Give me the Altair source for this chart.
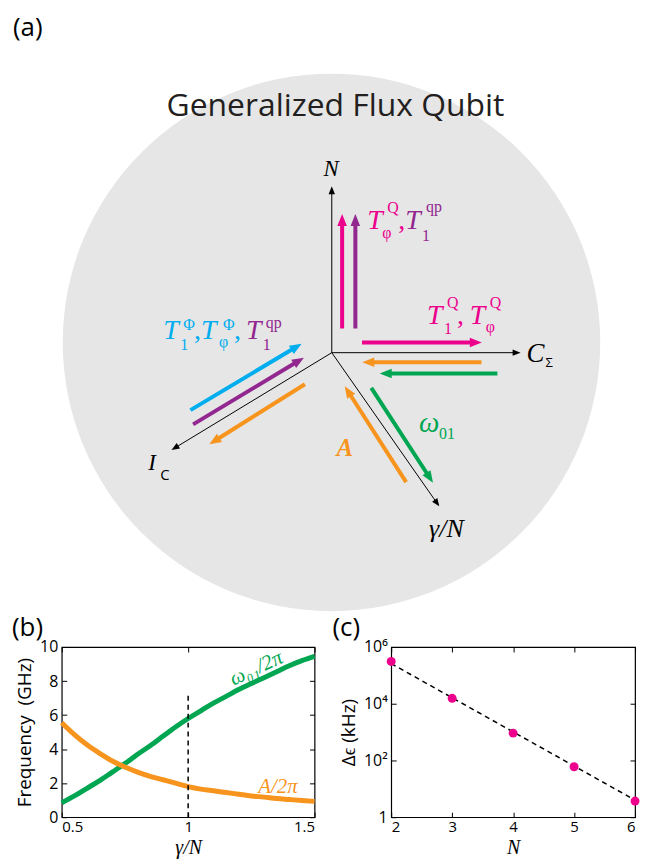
import math
import altair as alt
import pandas as pd

# ---------------- colours / fonts ----------------
PINK, PURPLE, CYAN, ORANGE, GREEN = '#EC008C', '#92278F', '#00AEEF', '#F7941D', '#00A651'
SANS = 'Open Sans'
SERIF = 'Liberation Serif'

# ---------------- panel (b) values ----------------
gamma_over_n = [0.50, 0.55, 0.60, 0.65, 0.70, 0.75, 0.80, 0.85, 0.90, 0.95, 1.00,
                1.05, 1.10, 1.15, 1.20, 1.25, 1.30, 1.35, 1.40, 1.45, 1.50]
omega01_ghz = [0.85, 1.25, 1.70, 2.15, 2.65, 3.15, 3.70, 4.20, 4.75, 5.30, 5.80,
               6.25, 6.70, 7.10, 7.50, 7.85, 8.20, 8.55, 8.90, 9.20, 9.45]
anharm_ghz = [5.55, 4.85, 4.25, 3.75, 3.30, 2.95, 2.65, 2.40, 2.20, 2.00, 1.80,
              1.65, 1.55, 1.45, 1.35, 1.25, 1.18, 1.10, 1.04, 0.98, 0.93]
marker_gamma = [1.0]
marker_top = [7.3]
b_xticks = [0.5, 1.0, 1.5]
b_yticks = [0, 2, 4, 6, 8, 10]

# ---------------- panel (c) values ----------------
n_junctions = [2, 3, 4, 5, 6]
delta_eps_khz = [3.1e5, 1.55e4, 920, 60, 3.7]
fit_n = [2, 6]
fit_khz = [2.6e5, 4.0]
c_xticks = [2, 3, 4, 5, 6]
c_yticks = [1, 1e2, 1e4, 1e6]

# ---------------- panel (a) diagram (page pixel coordinates) ----------------
circle_center = [330, 342]
circle_diameter = 540
axis_origin = [330.3, 352.3]
axis_tip_x = [330.3, 520.0, 169.3, 438.3]
axis_tip_y = [185.0, 352.3, 450.0, 506.7]

arrow_color = [PINK, PURPLE, PINK, ORANGE, GREEN, CYAN, PURPLE, ORANGE, ORANGE, GREEN]
arrow_x0 = [340.7, 354.0, 360.7, 480.7, 496.7, 188.3, 191.0, 303.3, 405.0, 370.0]
arrow_y0 = [328.0, 328.0, 342.0, 362.0, 373.3, 410.0, 424.3, 384.0, 482.3, 387.7]
arrow_x1 = [340.7, 354.0, 481.0, 361.0, 378.5, 300.0, 302.3, 207.3, 343.3, 432.0]
arrow_y1 = [213.0, 213.0, 342.0, 362.0, 373.3, 343.3, 357.3, 444.3, 386.0, 483.0]

# label pieces: text, x, y(baseline), size, colour, group
labels = [
    # italic serif
    ('T', 161, 339, 28, CYAN, 'ti'), ('T', 199, 339, 28, CYAN, 'ti'), ('T', 244, 339, 28, PURPLE, 'ti'),
    ('T', 366, 228, 28, PINK, 'ti'), ('T', 404, 228, 28, PURPLE, 'ti'),
    ('T', 426, 323, 28, PINK, 'ti'), ('T', 469, 323, 28, PINK, 'ti'),
    ('N', 322, 175, 23, 'black', 'ti'), ('C', 526, 362, 27, 'black', 'ti'),
    ('I', 146, 470, 23, 'black', 'ti'), ('γ/N', 428, 537, 26, 'black', 'ti'),
    ('ω', 418, 432, 29, GREEN, 'ti'),
    # upright serif (scripts, commas)
    ('Φ', 181, 330, 16, CYAN, 'tr'), ('1', 178, 350, 16, CYAN, 'tr'), (',', 192, 339, 28, CYAN, 'tr'),
    ('Φ', 221, 330, 16, CYAN, 'tr'), ('φ', 217, 347, 16, CYAN, 'tr'), (',', 232, 339, 28, CYAN, 'tr'),
    ('qp', 264, 327, 16, PURPLE, 'tr'), ('1', 261, 350, 16, PURPLE, 'tr'),
    ('Q', 386, 212, 16, PINK, 'tr'), ('φ', 381, 237, 16, PINK, 'tr'), (',', 397, 228, 28, PINK, 'tr'),
    ('qp', 425, 211, 16, PURPLE, 'tr'), ('1', 421, 240, 16, PURPLE, 'tr'),
    ('Q', 446, 307, 16, PINK, 'tr'), ('1', 443, 334, 16, PINK, 'tr'), (',', 456, 323, 28, PINK, 'tr'),
    ('Q', 489, 307, 16, PINK, 'tr'), ('φ', 485, 332, 16, PINK, 'tr'),
    ('01', 438, 439, 16, GREEN, 'tr'),
    # bold italic serif
    ('A', 335, 456, 25, ORANGE, 'bi'),
    # sans
    ('Σ', 545, 367, 13, 'black', 'sans'), ('C', 158, 480, 15, 'black', 'sans'),
    ('(a)', 10, 34, 26, 'black', 'sans'), ('(b)', 9, 637, 26, 'black', 'sans'),
    ('(c)', 331, 637, 26, 'black', 'sans'),
]
title_text = 'Generalized Flux Qubit'
title_pos = [334, 114]

# ---------------- panel (a) build ----------------
W_A, H_A = 637, 640
AX = alt.Scale(domain=[8, 8 + W_A], nice=False, zero=False)
AY = alt.Scale(domain=[8, 8 + H_A], nice=False, zero=False, reverse=True)
HEAD = 'M0,-1L-0.8,1L0.8,1Z'


def build_arrows(x0s, y0s, x1s, y1s, cols, head_len, back):
    ln, hd = [], []
    for a, b, c, d, col in zip(x0s, y0s, x1s, y1s, cols):
        L = math.hypot(c - a, d - b)
        ux, uy = (c - a) / L, (d - b) / L
        ln.append(dict(x0=a, y0=b, x1=c - ux * head_len * back, y1=d - uy * head_len * back, c=col))
        hd.append(dict(x=c - ux * head_len / 2, y=d - uy * head_len / 2,
                       ang=math.degrees(math.atan2(ux, -uy)) % 360, c=col))
    return pd.DataFrame(ln), pd.DataFrame(hd)


ax_lines, ax_heads = build_arrows([axis_origin[0]] * 4, [axis_origin[1]] * 4, axis_tip_x, axis_tip_y,
                                  ['black'] * 4, 8, 0.5)
col_lines, col_heads = build_arrows(arrow_x0, arrow_y0, arrow_x1, arrow_y1, arrow_color, 12, 0.7)


def rule_layer(df, width):
    return alt.Chart(df).mark_rule(strokeWidth=width, strokeCap='butt').encode(
        x=alt.X('x0:Q', scale=AX, axis=None), y=alt.Y('y0:Q', scale=AY, axis=None),
        x2='x1:Q', y2='y1:Q', color=alt.Color('c:N', scale=None))


def head_layer(df, size):
    return alt.Chart(df).mark_point(filled=True, shape=HEAD, size=size, opacity=1, strokeWidth=0).encode(
        x=alt.X('x:Q', scale=AX, axis=None), y=alt.Y('y:Q', scale=AY, axis=None),
        angle=alt.Angle('ang:Q', scale=None), color=alt.Color('c:N', scale=None))


lab_df = pd.DataFrame(labels, columns=['t', 'x', 'y', 's', 'c', 'g'])


def text_layer(grp, **kw):
    return alt.Chart(lab_df[lab_df.g == grp]).mark_text(align='left', baseline='alphabetic', **kw).encode(
        x=alt.X('x:Q', scale=AX, axis=None), y=alt.Y('y:Q', scale=AY, axis=None), text='t:N',
        size=alt.Size('s:Q', scale=None), color=alt.Color('c:N', scale=None))


circle = alt.Chart(pd.DataFrame({'x': [circle_center[0]], 'y': [circle_center[1]]})).mark_point(
    filled=True, shape='circle', color='#E6E6E6', opacity=1, size=circle_diameter ** 2, strokeWidth=0
).encode(x=alt.X('x:Q', scale=AX, axis=None), y=alt.Y('y:Q', scale=AY, axis=None))

title_mark = alt.Chart(pd.DataFrame({'x': [title_pos[0]], 'y': [title_pos[1]], 't': [title_text]})).mark_text(
    align='center', baseline='alphabetic', font=SANS, fontSize=32, color='#231F20'
).encode(x=alt.X('x:Q', scale=AX, axis=None), y=alt.Y('y:Q', scale=AY, axis=None), text='t:N')

panel_a = alt.layer(
    circle, title_mark,
    rule_layer(ax_lines, 1), head_layer(ax_heads, 64),
    rule_layer(col_lines, 4), head_layer(col_heads, 144),
    text_layer('ti', font=SERIF, fontStyle='italic'),
    text_layer('tr', font=SERIF),
    text_layer('bi', font=SERIF, fontStyle='italic', fontWeight='bold'),
    text_layer('sans', font=SANS),
).properties(width=W_A, height=H_A, view=alt.ViewBackground(strokeOpacity=0))

# ---------------- common axis helpers ----------------
LAB = dict(domain=False, grid=False, ticks=False, tickSize=0, labelFont=SANS,
           labelColor='black', titleColor='black', titleFontWeight='normal')


def tick_axis(orient, offset, values):
    return alt.Axis(orient=orient, offset=offset, values=values, labels=False, ticks=True, tickSize=5,
                    tickColor='black', tickWidth=1, domain=False, grid=False, title=None)


# ---------------- panel (b) ----------------
WB, HB = 254, 171
XB = alt.Scale(domain=[0.5, 1.5], nice=False, zero=False)
YB = alt.Scale(domain=[0, 10], nice=False, zero=False)
dfb = pd.DataFrame({'g': gamma_over_n, 'w': omega01_ghz, 'a': anharm_ghz})

b_green = alt.Chart(dfb).mark_line(color=GREEN, strokeWidth=5, interpolate='monotone').encode(
    x=alt.X('g:Q', scale=XB, axis=alt.Axis(values=b_xticks, format='~g', labelPadding=2, labelFontSize=15,
                                           title='γ/N', titleFont=SERIF, titleFontStyle='italic',
                                           titleFontSize=20, titlePadding=3, **LAB)),
    y=alt.Y('w:Q', scale=YB, axis=alt.Axis(values=b_yticks, labelPadding=4, labelFontSize=16,
                                           title='Frequency\u00a0 (GHz)', titleFont=SANS, titleFontSize=19,
                                           titlePadding=5, **LAB)))
b_orange = alt.Chart(dfb).mark_line(color=ORANGE, strokeWidth=5, interpolate='monotone').encode(
    x=alt.X('g:Q', scale=XB, axis=tick_axis('top', -HB, b_xticks)),
    y=alt.Y('a:Q', scale=YB, axis=tick_axis('right', -WB, b_yticks)))
b_dash = alt.Chart(pd.DataFrame({'g': marker_gamma, 'lo': [0.0], 'hi': marker_top})).mark_rule(
    color='black', strokeWidth=1.5, strokeDash=[5, 4]).encode(
    x=alt.X('g:Q', scale=XB, axis=tick_axis('bottom', -HB, b_xticks)),
    y=alt.Y('lo:Q', scale=YB, axis=tick_axis('left', -WB, b_yticks)), y2='hi:Q')
b_text = alt.Chart(pd.DataFrame({'g': [1.27, 1.355], 'f': [8.74, 1.8], 't': ['ω₀₁/2π', 'A/2π'],
                                 'c': [GREEN, ORANGE], 'r': [335, 0]})).mark_text(
    font=SERIF, fontStyle='italic', fontSize=21, align='center', baseline='middle').encode(
    x=alt.X('g:Q', scale=XB, axis=None), y=alt.Y('f:Q', scale=YB, axis=None), text='t:N',
    color=alt.Color('c:N', scale=None), angle=alt.Angle('r:Q', scale=None))

panel_b = alt.layer(b_green, b_orange, b_dash, b_text).resolve_axis(x='independent', y='independent').properties(
    width=WB, height=HB, view=alt.ViewBackground(stroke='black', strokeWidth=1.2))

# ---------------- panel (c) ----------------
WC, HC = 245, 171
XC = alt.Scale(domain=[2, 6], nice=False, zero=False)
YC = alt.Scale(type='log', domain=[1, 1e6], nice=False)
dfc = pd.DataFrame({'n': n_junctions, 'e': delta_eps_khz})
dff = pd.DataFrame({'n': fit_n, 'e': fit_khz})
sup_expr = "datum.value == 1 ? '1' : datum.value == 100 ? '10²' : datum.value == 10000 ? '10⁴' : '10⁶'"

c_line = alt.Chart(dff).mark_line(color='black', strokeWidth=1.5, strokeDash=[5, 4]).encode(
    x=alt.X('n:Q', scale=XC, axis=tick_axis('top', -HC, c_xticks)),
    y=alt.Y('e:Q', scale=YC, axis=tick_axis('right', -WC, c_yticks)))
c_pts = alt.Chart(dfc).mark_point(filled=True, shape='circle', size=81, color=PINK, opacity=1).encode(
    x=alt.X('n:Q', scale=XC, axis=alt.Axis(values=c_xticks, format='d', labelPadding=2, labelFontSize=15,
                                           title='N', titleFont=SERIF, titleFontStyle='italic',
                                           titleFontSize=20, titlePadding=3, **LAB)),
    y=alt.Y('e:Q', scale=YC, axis=alt.Axis(values=c_yticks, labelExpr=sup_expr, labelPadding=4,
                                           labelFontSize=16, title='Δϵ (kHz)', titleFont=SANS,
                                           titleFontSize=19, titlePadding=5, **LAB)))
c_ghost = alt.Chart(dfc).mark_point(opacity=0).encode(
    x=alt.X('n:Q', scale=XC, axis=tick_axis('bottom', -HC, c_xticks)),
    y=alt.Y('e:Q', scale=YC, axis=tick_axis('left', -WC, c_yticks)))

panel_c = alt.layer(c_line, c_pts, c_ghost).resolve_axis(x='independent', y='independent').properties(
    width=WC, height=HC, view=alt.ViewBackground(stroke='black', strokeWidth=1.2))

spacer = alt.Chart(pd.DataFrame({'v': [0]})).mark_point(opacity=0).encode(
    x=alt.value(0), y=alt.value(0)).properties(width=4, height=10, view=alt.ViewBackground(strokeOpacity=0))

row2 = alt.hconcat(alt.hconcat(spacer, panel_b, spacing=0), panel_c, spacing=13)
chart = alt.vconcat(panel_a, row2, spacing=-9).properties(padding=0).configure(font=SANS)

chart.save("out.html", embed_options={"renderer": "svg", "actions": False})
